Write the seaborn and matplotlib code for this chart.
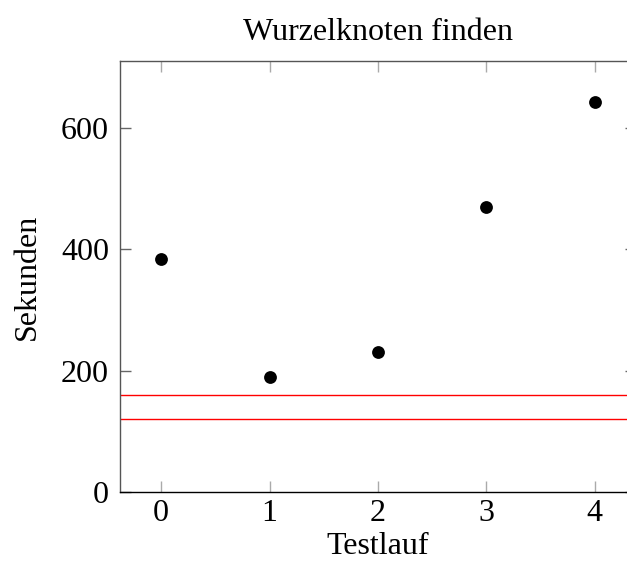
import seaborn as sns
import matplotlib.pyplot as plt
import pandas as pd

# values
testlauf = [0, 1, 2, 3, 4]
sekunden = [384, 189, 230, 469, 642]
grenzen = [160, 120]

df = pd.DataFrame({"Testlauf": testlauf, "Sekunden": sekunden})

sns.set_style("white")
plt.rcParams["font.family"] = ["Liberation Serif", "DejaVu Serif"]
plt.rcParams["text.color"] = "black"

fig = plt.figure(figsize=(6.27, 5.71), dpi=100)
ax = fig.add_axes([0.1914, 0.1384, 0.823, 0.7548])

sns.scatterplot(data=df, x="Testlauf", y="Sekunden", ax=ax, color="black",
                s=85, edgecolor="black", linewidth=0, zorder=3)
for g in grenzen:
    ax.axhline(g, color="#ff0000", linewidth=1.0, zorder=2)

ax.set_xlim(-0.38, 4.38)
ax.set_ylim(0, 710)
ax.set_xticks([0, 1, 2, 3, 4])
ax.set_yticks([0, 200, 400, 600])
ax.tick_params(axis="both", direction="in", length=8, width=1, colors="#aaaaaa",
               labelcolor="black", labelsize=23, top=True, right=True,
               bottom=True, left=True, pad=8)
ax.tick_params(axis="x", pad=5)
ax.tick_params(axis="y", colors="#666666", labelcolor="black")

for s in ax.spines.values():
    s.set_color("black")
    s.set_linewidth(1)
ax.spines["top"].set_color("#555555")
ax.spines["left"].set_color("#555555")

ax.set_title("Wurzelknoten finden", fontsize=23, pad=15, color="black")
ax.set_xlabel("Testlauf", fontsize=23, labelpad=3, color="black")
ax.set_ylabel("Sekunden", fontsize=23, labelpad=14, color="black")

fig.savefig("out.png", dpi=100)
